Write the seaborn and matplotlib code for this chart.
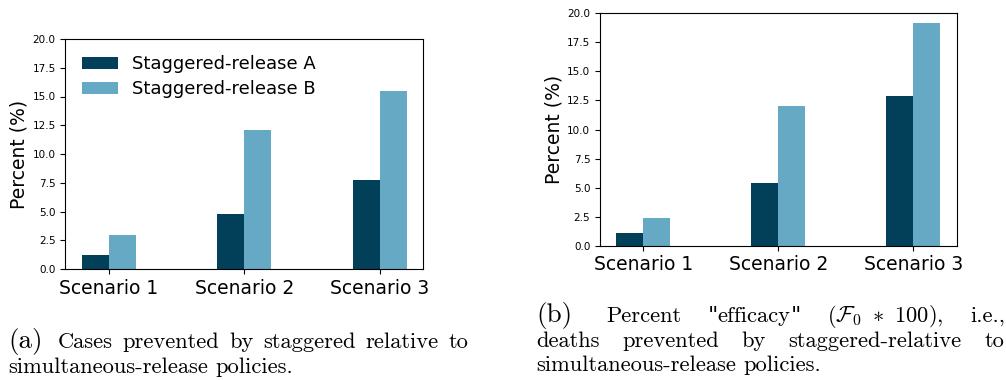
import matplotlib
matplotlib.use("Agg")
import matplotlib.pyplot as plt
from matplotlib.ticker import FormatStrFormatter
import numpy as np
import pandas as pd
import seaborn as sns

# ---- data -------------------------------------------------------------
scenarios = ["Scenario 1", "Scenario 2", "Scenario 3"]
policies = ["Staggered-release A", "Staggered-release B"]

cases_a = [1.25, 4.75, 7.75]     # cases prevented, policy A (%)
cases_b = [2.95, 12.05, 15.5]    # cases prevented, policy B (%)
deaths_a = [1.1, 5.4, 12.9]      # deaths prevented, policy A (%)
deaths_b = [2.4, 12.0, 19.2]     # deaths prevented, policy B (%)

y_ticks = [0.0, 2.5, 5.0, 7.5, 10.0, 12.5, 15.0, 17.5, 20.0]
palette = ["#023f59", "#66a9c5"]

W, H, DPI = 1006, 380, 100

sns.set_theme(style="ticks")
plt.rcParams.update({
    "font.family": ["DejaVu Sans"],
    "mathtext.fontset": "cm",
    "axes.edgecolor": "black",
    "axes.linewidth": 0.8,
    "xtick.color": "black",
    "ytick.color": "black",
    "text.color": "black",
    "axes.labelcolor": "black",
})


def make_frame(a_vals, b_vals):
    return pd.DataFrame({
        "scenario": scenarios * 2,
        "policy": [policies[0]] * len(scenarios) + [policies[1]] * len(scenarios),
        "percent": list(a_vals) + list(b_vals),
    })


fig = plt.figure(figsize=(W / DPI, H / DPI), dpi=DPI)


def px_axes(left, top, right, bottom):
    return fig.add_axes([left / W, 1 - bottom / H, (right - left) / W, (bottom - top) / H])


ax1 = px_axes(65.3, 39, 423, 269)
ax2 = px_axes(600, 13.3, 956.7, 245.7)

for ax, a_vals, b_vals, show_legend in [(ax1, cases_a, cases_b, True),
                                        (ax2, deaths_a, deaths_b, False)]:
    sns.barplot(data=make_frame(a_vals, b_vals), x="scenario", y="percent",
                hue="policy", palette=palette, width=0.4, saturation=1,
                linewidth=0, legend=show_legend, ax=ax)
    ax.set_xlim(-0.32, 2.32)
    ax.set_ylim(0, 20)
    ax.set_yticks(y_ticks)
    ax.yaxis.set_major_formatter(FormatStrFormatter("%.1f"))
    ax.tick_params(axis="x", labelsize=13.5, length=3.5, width=0.8)
    ax.tick_params(axis="y", labelsize=7.5, length=3.5, width=0.8)
    ax.set_xlabel("")
    ax.set_ylabel("Percent (%)", fontsize=13.5, labelpad=2.5)
    for side in ["top", "right", "left", "bottom"]:
        ax.spines[side].set_visible(True)

sns.move_legend(ax1, "upper left", title=None, frameon=False, fontsize=13,
                handlelength=2.0, handleheight=0.62, handletextpad=0.8,
                labelspacing=0.4)

# ---- captions ----------------------------------------------------------
renderer = fig.canvas.get_renderer()
CAP_SIZE = 16.2
LEAD_SIZE = 19.5
SERIF = "cmr10"
QUOTE_FONT = "DejaVu Serif"


def word_line(words, base_y, x_start, x_end=None, size=CAP_SIZE):
    """Lay out one caption line; each word may be a list of (text, family)
    pieces set side by side. With x_end given the line is justified."""
    groups = []
    for w in words:
        pieces = [(w, SERIF)] if isinstance(w, str) else w
        items = [fig.text(0, 0, s, fontsize=size, family=fam,
                          va="baseline", ha="left") for s, fam in pieces]
        widths = [t.get_window_extent(renderer).width for t in items]
        groups.append((items, widths))
    totals = [sum(ws) for _, ws in groups]
    if x_end is None or len(groups) == 1:
        gap = 0.333 * size * DPI / 72
    else:
        gap = (x_end - x_start - sum(totals)) / (len(groups) - 1)
    x = x_start
    for items, widths in groups:
        for t, w in zip(items, widths):
            t.set_position((x / W, 1 - base_y / H))
            x += w
        x += gap


# (a)
word_line(["(a)"], 348, 8, size=LEAD_SIZE)
word_line(["Cases", "prevented", "by", "staggered", "relative", "to"], 348, 58, 468)
word_line(["simultaneous-release", "policies."], 373, 8)

# (b)
word_line(["(b)"], 321.7, 536, size=LEAD_SIZE)
efficacy = [('"', QUOTE_FONT), ("efficacy", SERIF), ('"', QUOTE_FONT)]
word_line(["Percent", efficacy, r"$(\mathcal{F}_0\ \ast\ 100),$", "i.e.,"],
          321.7, 606, 1005)
word_line(["deaths", "prevented", "by", "staggered-relative", "to"], 346.7, 536, 1004)
word_line(["simultaneous-release", "policies."], 371, 536)

fig.savefig("out.png", dpi=DPI)
